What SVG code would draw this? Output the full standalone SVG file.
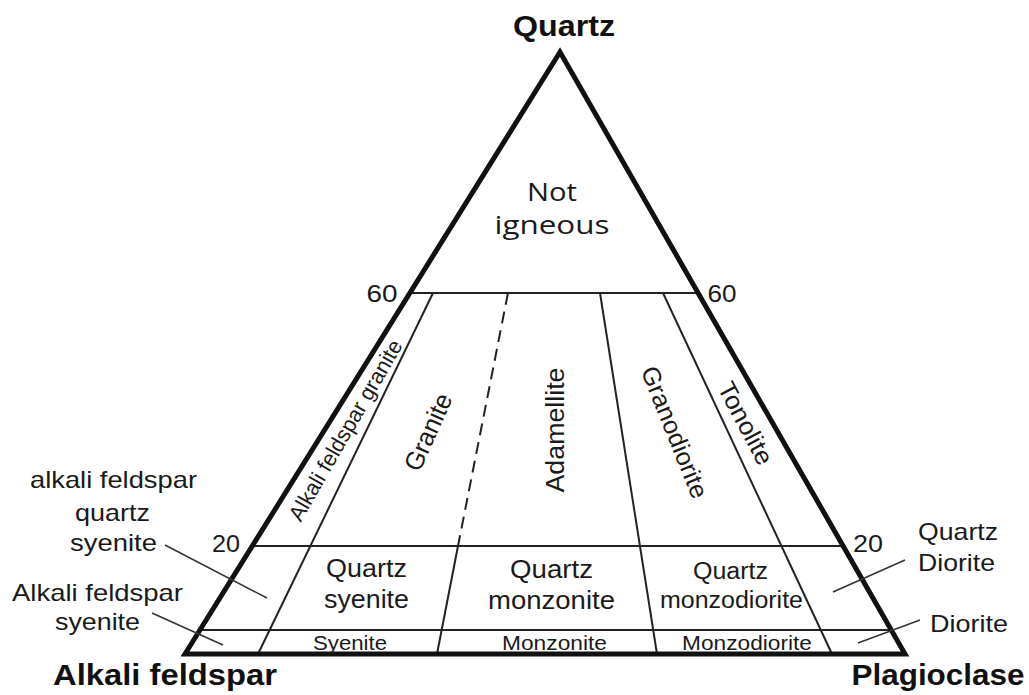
<svg xmlns="http://www.w3.org/2000/svg" width="1029" height="695" viewBox="0 0 1029 695">
<defs>
<style>
.t{font-family:"Liberation Sans",Arial,sans-serif;fill:#1a1a1a;text-anchor:middle}
.b{font-family:"Liberation Sans",Arial,sans-serif;font-weight:bold;fill:#111;text-anchor:middle;font-size:29px}
.o{font-family:"Open Sans","DejaVu Sans",sans-serif;fill:#1a1a1a;text-anchor:middle;font-size:25px}
.edge{fill:none;stroke:#111;stroke-width:5;stroke-linejoin:miter}
.ln{fill:none;stroke:#222;stroke-width:2}
.dash{fill:none;stroke:#222;stroke-width:2;stroke-dasharray:12 7}
.lead{fill:none;stroke:#333;stroke-width:1.5}
</style>
</defs>
<rect width="1029" height="695" fill="#fff"/>

<g id="field-lines">
<line class="ln" x1="410" y1="293" x2="698" y2="293"/>
<line class="ln" x1="252" y1="546" x2="843" y2="546"/>
<line class="ln" x1="200" y1="630" x2="891" y2="630"/>
<line class="ln" x1="433" y1="293" x2="258" y2="654"/>
<line class="dash" x1="508" y1="293" x2="458" y2="546"/>
<line class="ln" x1="458" y1="546" x2="437" y2="654"/>
<line class="ln" x1="600" y1="293" x2="657" y2="654"/>
<line class="ln" x1="663" y1="293" x2="832" y2="654"/>
</g>

<g id="triangle">
<path class="edge" d="M185,654 L560,52 L905,654 Z"/>
</g>

<g id="connectors">
<line class="lead" x1="165" y1="545" x2="267" y2="598"/>
<line class="lead" x1="152" y1="613" x2="223" y2="645"/>
<line class="lead" x1="905" y1="560" x2="833" y2="592"/>
<line class="lead" x1="920" y1="620" x2="858" y2="643"/>
</g>

<g id="vertex-quartz"><text class="b" x="564" y="36" font-size="31" textLength="102" lengthAdjust="spacingAndGlyphs">Quartz</text></g>
<g id="vertex-alkali-feldspar"><text class="b" x="165" y="685" textLength="224" lengthAdjust="spacingAndGlyphs">Alkali feldspar</text></g>
<g id="vertex-plagioclase"><text class="b" x="938" y="685" textLength="173" lengthAdjust="spacingAndGlyphs">Plagioclase</text></g>

<g id="not-igneous">
<text class="o" x="552" y="201" textLength="50" lengthAdjust="spacingAndGlyphs">Not</text>
<text class="o" x="552" y="234" textLength="115" lengthAdjust="spacingAndGlyphs">igneous</text>
</g>

<g id="ticks" class="t" font-size="24">
<text x="382" y="302" textLength="31" lengthAdjust="spacingAndGlyphs">60</text>
<text x="722" y="302" textLength="29" lengthAdjust="spacingAndGlyphs">60</text>
<text x="226" y="552" textLength="28" lengthAdjust="spacingAndGlyphs">20</text>
<text x="868" y="552" textLength="30" lengthAdjust="spacingAndGlyphs">20</text>
</g>

<g id="alkali-feldspar-granite"><text class="t" font-size="22" transform="translate(345,430) rotate(-60)" y="8" textLength="205" lengthAdjust="spacingAndGlyphs">Alkali feldspar granite</text></g>
<g id="granite"><text class="t" font-size="26" transform="translate(428,432) rotate(-66)" y="9" textLength="82" lengthAdjust="spacingAndGlyphs">Granite</text></g>
<g id="adamellite"><text class="t" font-size="25" transform="translate(555,430) rotate(-90)" y="9" textLength="125" lengthAdjust="spacingAndGlyphs">Adamellite</text></g>
<g id="granodiorite"><text class="t" font-size="25" transform="translate(675,432) rotate(68)" y="9" textLength="140" lengthAdjust="spacingAndGlyphs">Granodiorite</text></g>
<g id="tonolite"><text class="t" font-size="25" transform="translate(746,423) rotate(62)" y="9" textLength="90" lengthAdjust="spacingAndGlyphs">Tonolite</text></g>

<g id="quartz-syenite" class="t" font-size="25">
<text x="366.5" y="577" textLength="81" lengthAdjust="spacingAndGlyphs">Quartz</text>
<text x="366.5" y="608" textLength="85" lengthAdjust="spacingAndGlyphs">syenite</text>
</g>
<g id="quartz-monzonite" class="t" font-size="25">
<text x="551.5" y="578" textLength="83" lengthAdjust="spacingAndGlyphs">Quartz</text>
<text x="551.5" y="609" textLength="127" lengthAdjust="spacingAndGlyphs">monzonite</text>
</g>
<g id="quartz-monzodiorite" class="t" font-size="23">
<text x="730.5" y="579" textLength="75" lengthAdjust="spacingAndGlyphs">Quartz</text>
<text x="731.5" y="608" textLength="143" lengthAdjust="spacingAndGlyphs">monzodiorite</text>
</g>

<g id="bottom-row" class="t" font-size="20">
<text x="350" y="650" textLength="74" lengthAdjust="spacingAndGlyphs">Syenite</text>
<text x="554.5" y="650" textLength="105" lengthAdjust="spacingAndGlyphs">Monzonite</text>
<text x="747" y="650" textLength="130" lengthAdjust="spacingAndGlyphs">Monzodiorite</text>
</g>

<g id="label-af-quartz-syenite" class="t" font-size="24">
<text x="113.5" y="488" textLength="167" lengthAdjust="spacingAndGlyphs">alkali feldspar</text>
<text x="112.5" y="521" textLength="75" lengthAdjust="spacingAndGlyphs">quartz</text>
<text x="113.5" y="551" textLength="87" lengthAdjust="spacingAndGlyphs">syenite</text>
</g>
<g id="label-af-syenite" class="t" font-size="24">
<text x="97.5" y="601" textLength="171" lengthAdjust="spacingAndGlyphs">Alkali feldspar</text>
<text x="97.5" y="630" textLength="85" lengthAdjust="spacingAndGlyphs">syenite</text>
</g>
<g id="label-quartz-diorite" class="t" font-size="24">
<text x="958" y="540" textLength="80" lengthAdjust="spacingAndGlyphs">Quartz</text>
<text x="956.5" y="571" textLength="77" lengthAdjust="spacingAndGlyphs">Diorite</text>
</g>
<g id="label-diorite" class="t" font-size="24">
<text x="969" y="632" textLength="78" lengthAdjust="spacingAndGlyphs">Diorite</text>
</g>
</svg>
